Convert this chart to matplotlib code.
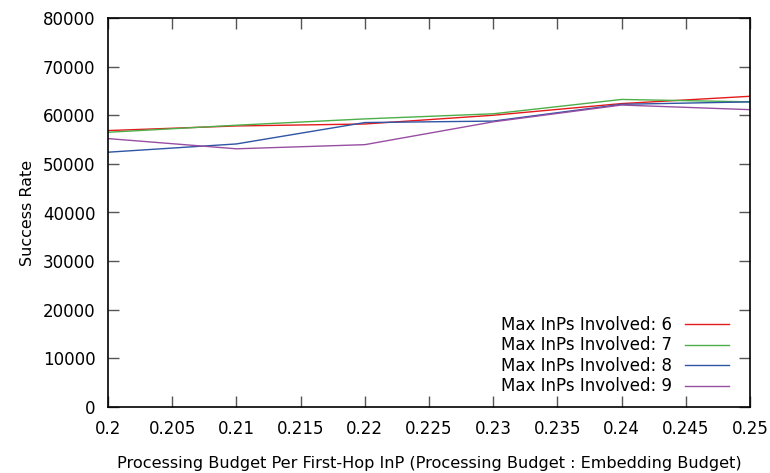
import numpy as np
import matplotlib
matplotlib.use("Agg")
import matplotlib.pyplot as plt

# --- Data ---
budget = [0.20, 0.21, 0.22, 0.23, 0.24, 0.25]
inps_6 = [56850, 57800, 58200, 60000, 62400, 63900]
inps_7 = [56500, 57950, 59250, 60300, 63250, 62750]
inps_8 = [52400, 54100, 58500, 58800, 62250, 62750]
inps_9 = [55200, 53100, 53950, 58650, 62100, 61150]

series = [
    ("Max InPs Involved: 6", inps_6, "#e41a1c"),
    ("Max InPs Involved: 7", inps_7, "#4daf4a"),
    ("Max InPs Involved: 8", inps_8, "#2f55a4"),
    ("Max InPs Involved: 9", inps_9, "#984ea3"),
]

x_ticks = [0.2, 0.205, 0.21, 0.215, 0.22, 0.225, 0.23, 0.235, 0.24, 0.245, 0.25]
x_labels = ["0.2", "0.205", "0.21", "0.215", "0.22", "0.225", "0.23", "0.235", "0.24", "0.245", "0.25"]
y_ticks = [0, 10000, 20000, 30000, 40000, 50000, 60000, 70000, 80000]

plt.rcParams['font.family'] = ['DejaVu Sans']
plt.rcParams['font.size'] = 11

fig = plt.figure(figsize=(7.7, 4.73), dpi=100)
ax = fig.add_axes([108 / 770, 66 / 473, 642 / 770, 389 / 473])

for label, vals, color in series:
    ax.plot(budget, vals, color=color, linewidth=1.0, label=label)

ax.set_xlim(0.2, 0.25)
ax.set_ylim(0, 80000)
ax.set_xticks(x_ticks)
ax.set_xticklabels(x_labels)
ax.set_yticks(y_ticks)
ax.set_yticklabels([str(v) for v in y_ticks])

# gnuplot style: inward ticks mirrored on all sides
ax.tick_params(direction="in", length=8, width=1, top=True, right=True,
               labelsize=12, pad=9, color="#555555")
for sp in ax.spines.values():
    sp.set_linewidth(1.2)

ax.set_xlabel("Processing Budget Per First-Hop InP (Processing Budget : Embedding Budget)",
              fontsize=11.6, labelpad=13)
ax.set_ylabel("Success Rate", fontsize=11.5, labelpad=6)

ax.legend(loc="lower right", frameon=False, markerfirst=False, fontsize=12,
          handlelength=2.6, labelspacing=0.15, borderaxespad=0.3,
          bbox_to_anchor=(0.985, 0.0))

fig.savefig("out.png", dpi=100)
